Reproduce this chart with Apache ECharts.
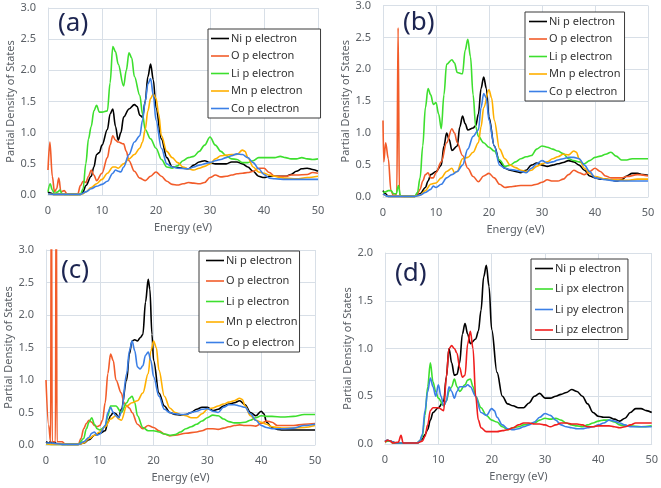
<!DOCTYPE html>
<html><head><meta charset="utf-8">
<script src="https://cdn.jsdelivr.net/npm/echarts@6/dist/echarts.min.js"></script>
<style>html,body{margin:0;padding:0;background:#fff}#c{width:661px;height:488px}</style>
</head><body><div id="c"></div>
<script>
// ---------- Panel (a) ----------
const aNi=[[0,0.05],[0.5,0.03],[1,0.01],[6,0.01],[6.5,0.05],[7,0.15],[8,0.3],[8.5,0.45],[9,0.65],[9.5,0.68],[10,0.8],[11,1.05],[11.5,1.3],[12,1.38],[12.5,1.1],[13,0.88],[13.5,1.0],[14,1.25],[15,1.38],[16,1.45],[16.5,1.42],[17,1.28],[17.5,1.25],[18,1.5],[18.5,1.9],[19,2.1],[19.5,1.85],[20,1.4],[21,0.9],[22,0.6],[23,0.45],[25,0.43],[26,0.42],[27,0.48],[28,0.53],[29,0.55],[30,0.52],[31,0.5],[32,0.5],[33,0.5],[34,0.53],[35,0.53],[36,0.5],[37,0.45],[38,0.38],[39,0.3],[40,0.28],[41,0.3],[42,0.3],[43,0.3],[44,0.3],[45,0.33],[46,0.38],[47,0.42],[48,0.43],[49,0.41],[50,0.38]];
const aO=[[0,0.4],[0.35,0.85],[0.8,0.3],[1.2,0.05],[1.6,0.1],[2,0.27],[2.4,0.05],[3,0.07],[3.5,0.02],[4,0.01],[5.5,0.01],[6,0.15],[6.5,0.22],[7,0.2],[7.5,0.3],[8,0.4],[8.5,0.32],[9,0.23],[10,0.35],[11,0.6],[11.5,0.8],[12,0.95],[12.5,0.88],[13,0.85],[14,0.82],[14.5,0.7],[15,0.55],[16,0.38],[17,0.27],[18,0.23],[19,0.3],[20,0.37],[21,0.3],[22,0.22],[23,0.17],[24,0.16],[25,0.18],[26,0.2],[27,0.19],[28,0.18],[29,0.2],[30,0.28],[31,0.32],[32,0.29],[33,0.3],[34,0.32],[35,0.34],[36,0.35],[37,0.36],[38,0.38],[39,0.43],[40,0.43],[41,0.36],[42,0.3],[43,0.3],[44,0.3],[45,0.32],[46,0.32],[48,0.33],[49,0.36],[50,0.35]];
const aLi=[[0,0.05],[0.4,0.18],[0.8,0.08],[1.2,0.02],[1.8,0.05],[2.2,0.08],[2.6,0.02],[3,0.01],[6,0.01],[6.5,0.1],[7,0.5],[7.5,0.9],[8,1.1],[8.5,1.35],[9,1.44],[9.5,1.33],[10,1.33],[11,1.35],[11.5,1.8],[12,2.38],[12.5,2.3],[13,2.1],[14,1.75],[14.5,2.0],[15,2.28],[15.5,2.2],[16,1.9],[17,1.6],[17.5,1.3],[18,1.05],[19,0.9],[20,0.75],[21,0.57],[22,0.45],[23,0.43],[24,0.47],[25,0.55],[26,0.6],[27,0.62],[28,0.7],[29,0.8],[30,0.93],[31,0.8],[32,0.7],[33,0.63],[34,0.58],[35,0.57],[36,0.52],[37,0.52],[38,0.55],[39,0.6],[40,0.6],[41,0.6],[42,0.6],[43,0.62],[44,0.6],[45,0.58],[46,0.58],[47,0.6],[48,0.58],[49,0.57],[50,0.58]];
const aMn=[[0,0.02],[1,0.01],[6,0.01],[6.5,0.02],[7,0.05],[8,0.12],[9,0.18],[10,0.25],[11,0.35],[12,0.45],[12.5,0.45],[13,0.43],[14,0.5],[15,0.58],[16,0.65],[17,0.75],[17.5,0.85],[18,1.05],[18.5,1.35],[19,1.55],[19.5,1.62],[20,1.55],[20.5,1.3],[21,0.95],[22,0.7],[23,0.6],[24,0.52],[25,0.45],[26,0.42],[27,0.4],[28,0.43],[29,0.46],[30,0.5],[31,0.58],[32,0.63],[33,0.64],[34,0.65],[35,0.65],[36,0.72],[36.5,0.7],[37,0.6],[38,0.45],[39,0.37],[40,0.35],[41,0.32],[42,0.3],[43,0.28],[44,0.27],[46,0.26],[48,0.28],[50,0.3]];
const aCo=[[0,0.02],[1,0.01],[6,0.01],[7,0.05],[8,0.1],[9,0.14],[10,0.17],[11,0.22],[12,0.35],[12.5,0.4],[13,0.38],[13.5,0.37],[14,0.45],[15,0.65],[16,0.85],[17,0.95],[17.5,1.2],[18,1.5],[18.5,1.78],[19,1.87],[19.5,1.6],[20,1.2],[21,0.75],[22,0.5],[23,0.45],[24,0.43],[26,0.42],[27,0.45],[28,0.48],[30,0.52],[31,0.55],[32,0.57],[33,0.6],[34,0.63],[35,0.66],[36,0.65],[37,0.6],[38,0.52],[39,0.42],[40,0.33],[41,0.27],[42,0.26],[44,0.25],[46,0.25],[48,0.25],[50,0.25]];
// ---------- Panel (b) ----------
const bNi=[[0,0.1],[0.5,0.05],[1,0.01],[6,0.01],[7,0.05],[8,0.15],[8.5,0.25],[9,0.35],[10,0.4],[11,0.5],[11.5,0.8],[12,1.0],[12.5,0.9],[13,0.73],[14,0.8],[14.5,1.1],[15,1.27],[15.5,1.15],[16,1.05],[17,1.08],[17.5,1.12],[18,1.3],[18.5,1.7],[19,1.88],[19.5,1.7],[20,1.25],[21,0.8],[22,0.55],[23,0.45],[24,0.42],[25,0.4],[26,0.38],[27,0.42],[28,0.5],[29,0.53],[30,0.5],[31,0.48],[32,0.5],[33,0.52],[34,0.54],[35,0.57],[36,0.55],[37,0.5],[38,0.42],[39,0.33],[40,0.3],[41,0.28],[42,0.28],[43,0.27],[44,0.25],[45,0.27],[46,0.33],[47,0.37],[48,0.37],[49,0.35],[50,0.34]];
const bO=[[0,1.2],[0.15,0.55],[0.5,0.85],[1,0.6],[1.5,0.1],[2,0.02],[2.6,0.05],[2.85,2.65],[3.1,0.02],[3.5,0.01],[6,0.01],[6.5,0.05],[7,0.12],[7.5,0.25],[8,0.35],[8.5,0.38],[9,0.3],[9.5,0.3],[10,0.38],[11,0.55],[12,0.85],[13,1.07],[13.5,1.0],[14,0.85],[15,0.65],[16,0.45],[17,0.32],[18,0.24],[19,0.33],[20,0.37],[21,0.3],[22,0.2],[23,0.15],[24,0.16],[25,0.17],[26,0.18],[28,0.18],[29,0.2],[30,0.23],[31,0.27],[32,0.25],[33,0.25],[34,0.28],[35,0.35],[36,0.42],[37,0.38],[38,0.35],[39,0.4],[40,0.45],[41,0.4],[42,0.33],[43,0.3],[44,0.3],[45,0.3],[46,0.32],[48,0.35],[50,0.33]];
const bLi=[[0,0.07],[0.5,0.08],[1,0.1],[1.5,0.1],[2,0.05],[2.5,0.05],[2.9,0.18],[3.3,0.02],[4,0.01],[6,0.01],[6.5,0.07],[7,0.3],[7.5,0.8],[8,1.4],[8.5,1.7],[9,1.6],[9.5,1.45],[10,1.48],[10.5,1.3],[11,1.07],[11.5,1.6],[12,2.08],[13,2.15],[13.5,2.1],[14,1.95],[15,1.93],[15.5,2.3],[16,2.47],[16.5,2.2],[17,1.6],[17.5,1.1],[18,0.95],[19,0.85],[20,0.78],[21,0.72],[22,0.58],[23,0.48],[24,0.5],[25,0.55],[26,0.6],[27,0.63],[28,0.65],[29,0.75],[30,0.8],[31,0.78],[32,0.75],[33,0.72],[34,0.68],[35,0.6],[36,0.57],[37,0.55],[38,0.52],[39,0.57],[40,0.62],[41,0.64],[42,0.67],[43,0.7],[44,0.64],[45,0.58],[46,0.58],[47,0.6],[48,0.6],[50,0.6]];
const bMn=[[0,0.05],[1,0.01],[6,0.01],[7,0.03],[8,0.1],[9,0.2],[10,0.22],[11,0.3],[12,0.4],[13,0.45],[13.5,0.38],[14,0.4],[15,0.6],[16,0.62],[17,0.7],[18,0.85],[18.5,1.1],[19,1.4],[20,1.68],[20.5,1.55],[21,1.2],[22,0.75],[23,0.6],[24,0.5],[25,0.46],[26,0.42],[27,0.4],[28,0.42],[29,0.48],[30,0.52],[31,0.55],[32,0.6],[33,0.63],[34,0.67],[35,0.66],[36,0.72],[36.5,0.7],[37,0.6],[38,0.45],[39,0.37],[40,0.32],[42,0.28],[44,0.27],[46,0.26],[48,0.28],[50,0.28]];
const bCo=[[0,0.05],[1,0.01],[6,0.01],[7,0.03],[8,0.07],[9,0.12],[9.5,0.17],[10,0.15],[11,0.2],[12,0.3],[13,0.35],[14,0.4],[15,0.5],[16,0.75],[17,0.95],[18,1.05],[18.5,1.4],[19,1.62],[19.5,1.55],[20,1.2],[21,0.8],[22,0.5],[23,0.45],[24,0.43],[25,0.42],[26,0.4],[27,0.38],[28,0.45],[29,0.52],[30,0.57],[31,0.53],[32,0.55],[33,0.58],[34,0.6],[35,0.62],[36,0.62],[37,0.6],[38,0.5],[39,0.4],[40,0.3],[42,0.27],[44,0.25],[46,0.25],[48,0.25],[50,0.25]];
// ---------- Panel (c) ----------
const cNi=[[0,0.05],[0.5,0.03],[0.8,0.05],[1.2,0.02],[1.5,0.05],[2,0.02],[3,0.01],[6,0.01],[7,0.03],[8,0.08],[9,0.15],[10,0.18],[11,0.22],[11.5,0.35],[12,0.45],[12.5,0.5],[13,0.48],[13.5,0.42],[14,0.55],[15,1.0],[15.5,1.4],[16,1.6],[16.5,1.62],[17,1.6],[17.5,1.65],[18,1.7],[18.5,2.2],[19,2.55],[19.3,2.4],[19.7,1.7],[20,1.3],[21,0.8],[22,0.6],[23,0.5],[24,0.47],[25,0.46],[26,0.47],[27,0.5],[28,0.55],[29,0.58],[30,0.58],[31,0.53],[32,0.55],[33,0.6],[34,0.63],[35,0.65],[36,0.68],[37,0.62],[38,0.5],[39,0.45],[40,0.52],[40.5,0.48],[41,0.35],[42,0.27],[43,0.24],[44,0.23],[46,0.23],[48,0.23],[50,0.23]];
const cO=[[0,1.0],[0.5,0.3],[0.85,0.05],[1.0,4.5],[1.15,0.05],[1.75,0.05],[1.9,4.5],[2.05,0.05],[3,0.05],[3.5,0.02],[4,0.01],[6,0.01],[6.5,0.1],[7,0.25],[7.5,0.33],[8,0.38],[8.5,0.35],[9,0.3],[9.5,0.28],[10,0.3],[10.5,0.38],[11,0.65],[11.5,1.1],[12,1.4],[12.5,1.3],[13,1.0],[14,0.8],[14.5,0.65],[15,0.6],[15.5,0.57],[16,0.5],[17,0.32],[18,0.25],[19,0.3],[20,0.27],[21,0.22],[22,0.17],[23,0.14],[24,0.15],[26,0.18],[28,0.2],[29,0.22],[30,0.25],[31,0.25],[32,0.24],[33,0.26],[34,0.28],[35,0.3],[36,0.31],[37,0.3],[38,0.3],[39,0.29],[40,0.33],[41,0.37],[42,0.35],[43,0.3],[44,0.3],[45,0.3],[46,0.3],[48,0.32],[50,0.33]];
const cLi=[[0,0.02],[1,0.01],[6,0.01],[7,0.1],[7.5,0.25],[8,0.35],[8.5,0.42],[9,0.32],[9.5,0.25],[10,0.23],[11,0.28],[11.5,0.45],[12,0.6],[13,0.6],[14,0.5],[15,0.65],[15.5,0.72],[16,0.75],[16.5,0.65],[17,0.45],[18,0.27],[19,0.22],[20,0.22],[21,0.2],[22,0.17],[23,0.15],[24,0.16],[25,0.2],[26,0.25],[27,0.28],[28,0.32],[29,0.37],[30,0.42],[31,0.46],[32,0.45],[33,0.4],[34,0.36],[35,0.34],[36,0.34],[37,0.35],[38,0.38],[39,0.42],[40,0.45],[41,0.44],[42,0.44],[44,0.43],[46,0.44],[48,0.47],[50,0.47]];
const cMn=[[0,0.02],[1,0.01],[6,0.01],[7,0.03],[8,0.1],[9,0.15],[10,0.2],[11,0.28],[12,0.4],[13,0.45],[13.5,0.4],[14,0.38],[15,0.6],[16,0.65],[17,0.68],[18,0.8],[19,1.1],[19.5,1.45],[20,1.6],[20.5,1.5],[21,1.15],[22,0.75],[23,0.57],[24,0.5],[25,0.47],[26,0.45],[27,0.42],[28,0.42],[29,0.48],[30,0.55],[31,0.57],[32,0.6],[33,0.63],[34,0.66],[35,0.68],[36,0.72],[36.5,0.7],[37,0.6],[38,0.45],[39,0.38],[40,0.35],[41,0.32],[42,0.28],[43,0.27],[44,0.26],[46,0.26],[48,0.27],[50,0.3]];
const cCo=[[0,0.03],[1,0.03],[2,0.02],[3,0.01],[6,0.01],[7,0.05],[8,0.12],[8.5,0.18],[9,0.2],[9.5,0.15],[10,0.17],[11,0.3],[11.5,0.5],[12,0.58],[12.5,0.5],[13,0.45],[13.5,0.42],[14,0.5],[15,1.1],[15.5,1.45],[16,1.6],[16.5,1.45],[17,1.2],[17.5,1.17],[18,1.22],[18.5,1.38],[19,1.43],[19.5,1.3],[20,1.05],[21,0.75],[22,0.55],[23,0.5],[24,0.48],[25,0.47],[26,0.47],[27,0.5],[28,0.52],[29,0.55],[30,0.56],[31,0.52],[32,0.5],[33,0.58],[34,0.62],[35,0.62],[36,0.6],[37,0.58],[38,0.48],[39,0.38],[40,0.3],[41,0.27],[42,0.25],[44,0.25],[46,0.26],[48,0.3],[50,0.32]];
// ---------- Panel (d) ----------
const dNi=[[0,0.03],[0.5,0.04],[1,0.03],[1.5,0.02],[2,0.01],[6,0.01],[7,0.05],[7.5,0.1],[8,0.15],[8.5,0.25],[9,0.33],[10,0.38],[11,0.45],[11.5,0.7],[12,1.0],[12.5,0.85],[13,0.72],[13.5,0.73],[14,0.85],[14.5,1.15],[15,1.26],[15.5,1.15],[16,1.05],[17,1.1],[17.5,1.18],[18,1.4],[18.5,1.75],[19,1.87],[19.5,1.65],[20,1.2],[21,0.75],[22,0.5],[23,0.42],[24,0.4],[25,0.38],[26,0.38],[27,0.43],[28,0.5],[29,0.53],[30,0.48],[31,0.48],[32,0.5],[33,0.52],[34,0.54],[35,0.57],[36,0.55],[37,0.5],[38,0.42],[39,0.33],[40,0.29],[41,0.28],[42,0.28],[43,0.26],[44,0.24],[45,0.27],[46,0.33],[47,0.37],[48,0.37],[49,0.35],[50,0.33]];
const dLiPx=[[0,0.02],[0.5,0.03],[1,0.03],[1.5,0.01],[2,0.01],[6,0.01],[6.5,0.03],[7,0.08],[7.5,0.3],[8,0.6],[8.5,0.85],[9,0.65],[9.5,0.55],[10,0.48],[11,0.4],[11.5,0.45],[12,0.55],[12.5,0.6],[13,0.68],[13.5,0.6],[14,0.55],[15,0.62],[15.5,0.67],[16,0.68],[16.5,0.6],[17,0.5],[18,0.38],[19,0.3],[20,0.25],[21,0.23],[22,0.18],[23,0.15],[24,0.17],[25,0.18],[26,0.2],[28,0.22],[29,0.25],[30,0.27],[31,0.26],[32,0.27],[33,0.25],[34,0.22],[35,0.2],[36,0.19],[37,0.18],[38,0.2],[39,0.22],[40,0.24],[41,0.25],[42,0.25],[43,0.23],[44,0.2],[45,0.19],[46,0.19],[48,0.18],[50,0.19]];
const dLiPy=[[0,0.03],[0.5,0.04],[1,0.03],[2,0.01],[6,0.01],[6.5,0.03],[7,0.1],[7.5,0.35],[8,0.55],[8.5,0.69],[9,0.6],[9.5,0.5],[10,0.62],[10.5,0.5],[11,0.4],[11.5,0.45],[12,0.6],[12.5,0.55],[13,0.48],[13.5,0.55],[14,0.6],[15,0.6],[15.5,0.62],[16,0.6],[17,0.5],[18,0.33],[19,0.3],[20,0.37],[20.5,0.35],[21,0.28],[22,0.2],[23,0.16],[24,0.15],[25,0.16],[26,0.18],[27,0.2],[28,0.23],[29,0.28],[30,0.32],[31,0.3],[32,0.25],[33,0.2],[34,0.18],[35,0.17],[36,0.16],[37,0.16],[38,0.17],[39,0.18],[40,0.2],[41,0.22],[42,0.25],[43,0.24],[44,0.22],[45,0.2],[46,0.18],[48,0.18],[50,0.18]];
const dLiPz=[[0,0.02],[0.5,0.04],[1,0.03],[1.5,0.01],[2.5,0.02],[3,0.09],[3.4,0.01],[4,0.01],[6,0.01],[7,0.03],[7.5,0.08],[8,0.2],[8.5,0.35],[9,0.38],[10,0.38],[11,0.35],[11.5,0.7],[12,1.0],[12.5,1.03],[13,1.0],[13.5,0.95],[14,0.8],[14.5,0.7],[15,0.72],[15.5,1.05],[16,1.18],[16.5,1.0],[17,0.5],[17.5,0.25],[18,0.17],[19,0.13],[20,0.13],[21,0.13],[22,0.14],[23,0.15],[24,0.17],[25,0.2],[26,0.22],[27,0.22],[28,0.21],[29,0.21],[30,0.2],[31,0.18],[32,0.2],[33,0.22],[34,0.22],[35,0.21],[36,0.21],[37,0.2],[38,0.18],[39,0.18],[40,0.19],[41,0.19],[42,0.19],[43,0.18],[44,0.17],[45,0.18],[46,0.2],[47,0.22],[48,0.22],[50,0.22]];

const namesABC=['Ni p electron','O p electron','Li p electron','Mn p electron','Co p electron'];
const namesD=['Ni p electron','Li px electron','Li py electron','Li pz electron'];
const panelLabels=['(a)','(b)','(c)','(d)'];
const xTicks=[0,10,20,30,40,50];

const colABC=['#000000','#f25c2a','#3ddf2e','#ffb000','#3b7fe6'];
const colD=['#000000','#3ddf2e','#3b7fe6','#f01e1e'];
const txt='#5b6066', gridC='#d8dfe7', font='Noto Sans';

const grids=[
 {left:48,top:8,width:270,height:187},
 {left:383,top:5,width:265,height:192},
 {left:46,top:250,width:269,height:195},
 {left:385,top:253,width:268,height:191}
];
const ymax=[3,3,3,2];
const panels=[
 {names:namesABC,cols:colABC,data:[aNi,aO,aLi,aMn,aCo]},
 {names:namesABC,cols:colABC,data:[bNi,bO,bLi,bMn,bCo]},
 {names:namesABC,cols:colABC,data:[cNi,cO,cLi,cMn,cCo]},
 {names:namesD,cols:colD,data:[dNi,dLiPx,dLiPy,dLiPz]}
];
const legendPos=[
 {left:208,top:29,gap:6.5,pad:[4,18,4,3]},
 {left:525,top:12,gap:6.5,pad:[4,4,4,4]},
 {left:199,top:251,gap:9.5,pad:[4,2,4,7]},
 {left:531,top:259,gap:9.5,pad:[4,4,4,4]}
];
const labelPos=[[58,11],[403,10],[61,258],[395,261]];
const yNameGap=[28,32,32,32];

const option={animation:false,backgroundColor:'#fff',
 textStyle:{fontFamily:font},
 grid:grids.map(g=>Object.assign({containLabel:false},g)),
 xAxis:grids.map((g,i)=>({gridIndex:i,type:'value',min:0,max:50,interval:10,
   name:'Energy (eV)',nameLocation:'middle',nameGap:27,
   nameTextStyle:{color:txt,fontSize:11,fontFamily:font},
   axisLine:{show:true,lineStyle:{color:gridC}},axisTick:{show:false},
   axisLabel:{color:txt,fontSize:11,margin:10,fontFamily:font,
     customValues:xTicks},
   splitLine:{show:true,lineStyle:{color:gridC,width:1}}})),
 yAxis:grids.map((g,i)=>({gridIndex:i,type:'value',min:0,max:ymax[i],interval:0.5,
   name:'Partial Density of States',nameLocation:'middle',nameGap:yNameGap[i],
   nameTextStyle:{color:txt,fontSize:11,fontFamily:font},
   axisLine:{show:true,lineStyle:{color:gridC}},axisTick:{show:false},
   axisLabel:{color:txt,fontSize:11,margin:12,fontFamily:font,formatter:v=>v.toFixed(1)},
   splitLine:{show:true,lineStyle:{color:gridC,width:1}}})),
 legend:panels.map((p,i)=>({orient:'vertical',left:legendPos[i].left,top:legendPos[i].top,
   data:p.names,itemWidth:18,itemHeight:10,itemGap:legendPos[i].gap,
   padding:legendPos[i].pad,borderColor:'#3a3a3a',borderWidth:1,backgroundColor:'#fff',
   icon:'path://M0,4.2 L18,4.2 L18,5.8 L0,5.8 Z',
   textStyle:{color:'#333',fontSize:11,fontFamily:font,padding:[0,0,0,-3]},
   selectedMode:false})),
 title:panelLabels.map((t,i)=>({text:t,left:labelPos[i][0],top:labelPos[i][1],
   textStyle:{fontSize:26,fontWeight:'normal',color:'#1d2551',fontFamily:font},padding:0})),
 series:[]
};
panels.forEach((p,i)=>{
 p.data.forEach((d,k)=>{
  option.series.push({type:'line',name:p.names[k],xAxisIndex:i,yAxisIndex:i,legendIndex:i,
   data:d,smooth:0.35,smoothMonotone:'x',showSymbol:false,clip:true,
   lineStyle:{color:p.cols[k],width:1.6},itemStyle:{color:p.cols[k]}});
 });
});
const chart=echarts.init(document.getElementById('c'),null,{renderer:'canvas'});
chart.setOption(option);
</script></body></html>
